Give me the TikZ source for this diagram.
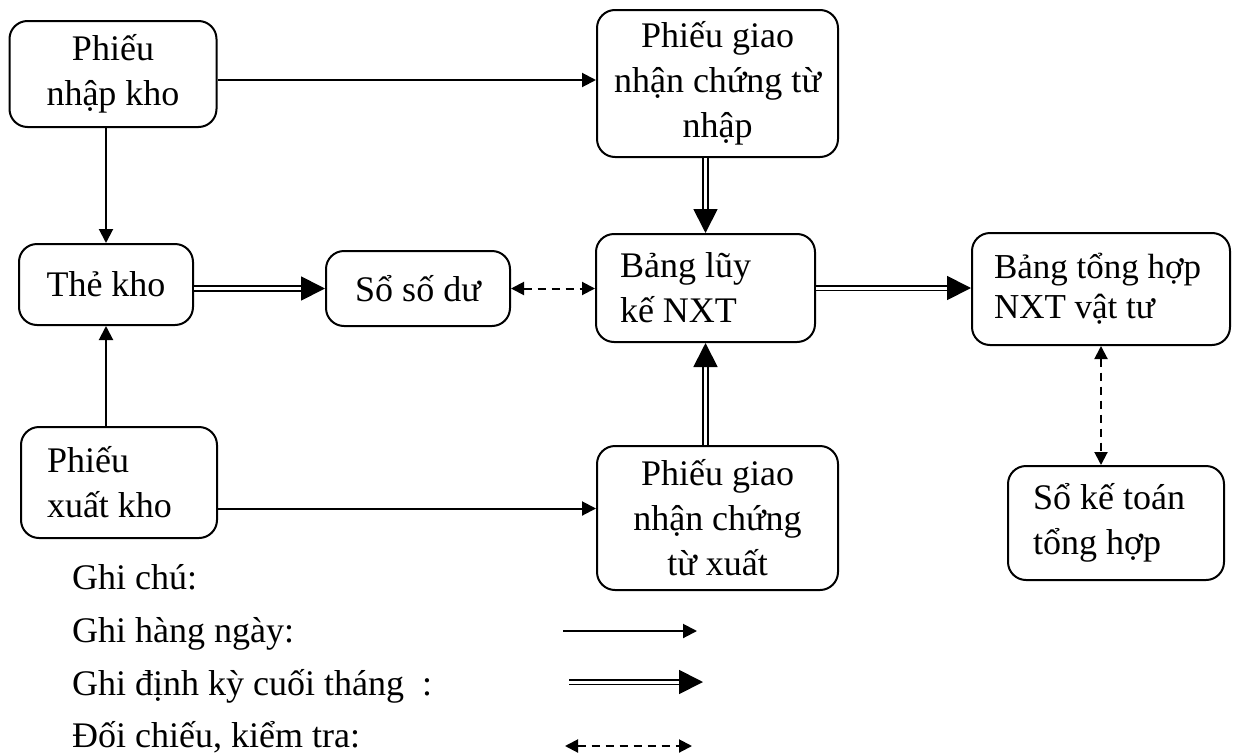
\documentclass[tikz,border=0pt]{standalone}
\usepackage{fontspec}
\setmainfont{Liberation Serif}
\usetikzlibrary{arrows.meta}
\begin{document}
\begin{tikzpicture}[x=1pt,y=-1pt,
  box/.style={draw, line width=2pt, rounded corners=18pt, inner sep=0pt,
              font=\fontsize{36}{45}\selectfont},
  cbox/.style={box, align=center},
  lbox/.style={box, align=flush left},
  legend/.style={anchor=base west, inner sep=0pt, font=\fontsize{36}{45}\selectfont},
  daily/.style={line width=2pt, -{Triangle[length=14pt,width=14pt]}},
  periodic/.style={double, double distance=3pt, line width=1.8pt,
                   -{Triangle[length=24pt,width=24pt]}},
  check/.style={line width=2pt, dash pattern=on 8pt off 6pt,
                {Triangle[length=13pt,width=13pt]}-{Triangle[length=13pt,width=13pt]}},
]
\useasboundingbox (0,0) rectangle (1242,755);

% documents and ledgers
\node[cbox, minimum width=207pt, minimum height=106pt] (A) at (113,74) {Phiếu\\nhập kho};
\node[cbox, minimum width=241pt, minimum height=147pt] (B) at (717.5,83.5) {Phiếu giao\\nhận chứng từ\\nhập};
\node[cbox, minimum width=174pt, minimum height=81pt] (C) at (106,284.5) {Thẻ kho};
\node[cbox, minimum width=184pt, minimum height=75pt] (D) at (418,288.5) {Sổ số dư};
\node[lbox, minimum height=108pt, text width=171pt, inner xsep=24pt] (E) at (705.5,288) {Bảng lũy\\kế NXT};
\node[lbox, minimum height=112pt, text width=214pt, inner xsep=22pt,
      font=\fontsize{35}{40}\selectfont] (F) at (1101,289) {Bảng tổng hợp\\NXT vật tư};
\node[lbox, minimum height=111pt, text width=144pt, inner xsep=26pt] (G) at (119,482.5) {Phiếu\\xuất kho};
\node[cbox, minimum width=241pt, minimum height=144pt] (H) at (717.5,518) {Phiếu giao\\nhận chứng\\từ xuất};
\node[lbox, minimum height=114pt, text width=166pt, inner xsep=25pt] (I) at (1116,523) {Sổ kế toán\\tổng hợp};

% daily entries
\draw[daily] ([yshift=-6pt]A.east) -- ([yshift=-6pt]A.east -| B.west);
\draw[daily] (C.north |- A.south) -- (C.north);
\draw[daily] (C.south |- G.north) -- (C.south);
\draw[daily] ([yshift=-26pt]G.east) -- ([yshift=-26pt]G.east -| H.west);

% end-of-month entries
\draw[periodic] (C.east |- D.west) -- (D.west);
\draw[periodic] (E.north |- B.south) -- (E.north);
\draw[periodic] (E.south |- H.north) -- (E.south);
\draw[periodic] (E.east) -- (E.east -| F.west);

% cross-checks
\draw[check] (D.east) -- (D.east -| E.west);
\draw[check] (F.south) -- (F.south |- I.north);

% legend
\node[legend] (k0) at (72,589) {Ghi chú:};
\node[legend] (k1) at (72,642) {Ghi hàng ngày:};
\node[legend] (k2) at (72,695) {Ghi định kỳ cuối tháng\ \ :};
\node[legend] (k3) at (72,747) {Đối chiếu, kiểm tra:};
\coordinate (s1) at (563,631); \coordinate (e1) at (697,631);
\coordinate (s2) at (569,682); \coordinate (e2) at (703,682);
\coordinate (s3) at (565,746); \coordinate (e3) at (692,746);
\draw[daily] (s1) -- (e1);
\draw[periodic] (s2) -- (e2);
\draw[check] (s3) -- (e3);
\end{tikzpicture}
\end{document}
